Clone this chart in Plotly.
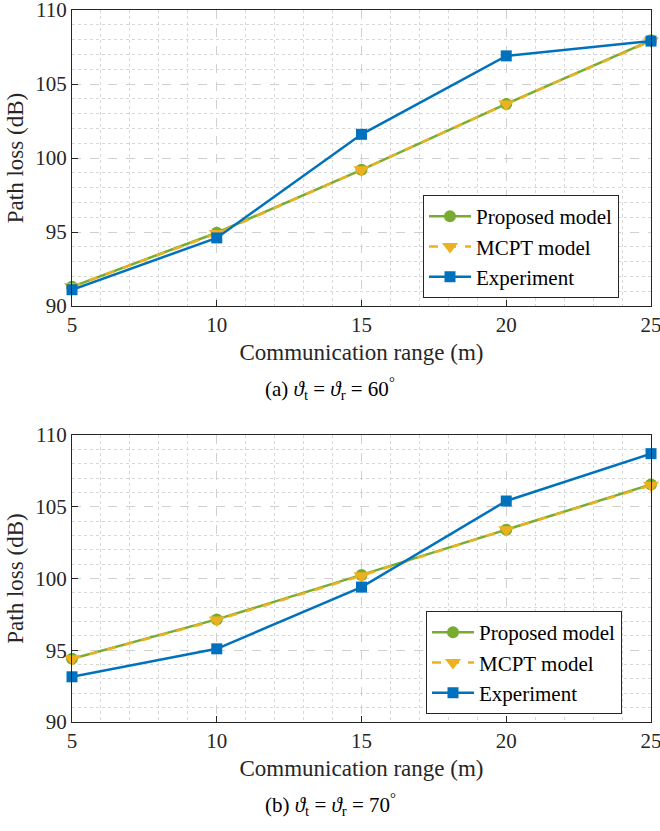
import plotly.graph_objects as go

ranges = [5, 10, 15, 20, 25]
# (a) 60 deg
prop_a = [91.3, 94.95, 99.2, 103.65, 107.95]
mcpt_a = [91.3, 94.9, 99.2, 103.65, 107.9]
exp_a = [91.1, 94.6, 101.6, 106.9, 107.9]
# (b) 70 deg
prop_b = [94.4, 97.15, 100.25, 103.4, 106.55]
mcpt_b = [94.4, 97.1, 100.2, 103.4, 106.5]
exp_b = [93.15, 95.1, 99.4, 105.4, 108.7]

names = ["Proposed model", "MCPT model", "Experiment"]
captions = ["(a) <i>ϑ</i><sub>t</sub> = <i>ϑ</i><sub>r</sub> = 60<sup>°</sup>",
            "(b) <i>ϑ</i><sub>t</sub> = <i>ϑ</i><sub>r</sub> = 70<sup>°</sup>"]

GREEN = "#77AC30"
ORANGE = "#EDB120"
BLUE = "#0072BD"
FONT = "Liberation Serif"
W, H = 660, 831


def fx(px):
    return px / W


def fy(py):
    return 1 - py / H


fig = go.Figure()

panels = [
    (prop_a, mcpt_a, exp_a, "x", "y", "legend"),
    (prop_b, mcpt_b, exp_b, "x2", "y2", "legend2"),
]

for prop, mcpt, exp, xa, ya, lg in panels:
    fig.add_trace(go.Scatter(x=ranges, y=prop, name=names[0], mode="lines+markers",
                             xaxis=xa, yaxis=ya, legend=lg, cliponaxis=False,
                             line=dict(color=GREEN, width=2.5),
                             marker=dict(symbol="circle", size=12, color=GREEN)))
    fig.add_trace(go.Scatter(x=ranges, y=mcpt, name=names[1], mode="lines+markers",
                             xaxis=xa, yaxis=ya, legend=lg, cliponaxis=False,
                             line=dict(color=ORANGE, width=2.5, dash="dash"),
                             marker=dict(symbol="triangle-down", size=14, color=ORANGE)))
    fig.add_trace(go.Scatter(x=ranges, y=exp, name=names[2], mode="lines+markers",
                             xaxis=xa, yaxis=ya, legend=lg, cliponaxis=False,
                             line=dict(color=BLUE, width=2.5),
                             marker=dict(symbol="square", size=11, color=BLUE)))


def axis_common():
    return dict(showline=True, linecolor="#262626", linewidth=1, mirror=True,
                ticks="inside", ticklen=6, tickcolor="#262626",
                tickfont=dict(family=FONT, size=21, color="#262626"),
                ticklabeloverflow="allow",
                showgrid=True, gridcolor="#d0d0d0", gridwidth=1, griddash="dash",
                zeroline=False, automargin=False,
                minor=dict(dtick=1, showgrid=True, gridcolor="#d8d8d8",
                           griddash="dot", ticks=""))


title_font = dict(family=FONT, size=23, color="#262626")

fig.update_layout(
    width=W, height=H,
    font=dict(family=FONT, size=21, color="#262626"),
    margin=dict(l=0, r=0, t=0, b=0, autoexpand=False),
    paper_bgcolor="white", plot_bgcolor="white",
    showlegend=True,
    xaxis=dict(domain=[fx(72), fx(651)], range=[5, 25], dtick=5, anchor="y",
               title=dict(text="Communication range (m)", font=title_font, standoff=7),
               **axis_common()),
    yaxis=dict(domain=[fy(306), fy(10)], range=[90, 110], dtick=5, anchor="x",
               title=dict(text="Path loss (dB)", font=title_font, standoff=5),
               **axis_common()),
    xaxis2=dict(domain=[fx(72), fx(651)], range=[5, 25], dtick=5, anchor="y2",
                title=dict(text="Communication range (m)", font=title_font, standoff=7),
                **axis_common()),
    yaxis2=dict(domain=[fy(722), fy(435)], range=[90, 110], dtick=5, anchor="x2",
                title=dict(text="Path loss (dB)", font=title_font, standoff=5),
                **axis_common()),
    legend=dict(x=fx(423), y=fy(195), xanchor="left", yanchor="top",
                bgcolor="white", bordercolor="#262626", borderwidth=1,
                font=dict(family=FONT, size=21, color="black"), itemwidth=42,
                tracegroupgap=0),
    legend2=dict(x=fx(426), y=fy(611), xanchor="left", yanchor="top",
                 bgcolor="white", bordercolor="#262626", borderwidth=1,
                 font=dict(family=FONT, size=21, color="black"), itemwidth=42,
                 tracegroupgap=0),
)

fig.add_annotation(text=captions[0], x=0.5, y=fy(389), xref="paper", yref="paper",
                   showarrow=False, font=dict(family=FONT, size=21, color="black"))
fig.add_annotation(text=captions[1], x=0.5, y=0, yanchor="bottom", yshift=11,
                   xref="paper", yref="paper", showarrow=False, borderpad=0,
                   font=dict(family=FONT, size=21, color="black"))

fig.write_html("out.html", config={"displayModeBar": False},
               post_script="document.body.style.margin='0px';")
